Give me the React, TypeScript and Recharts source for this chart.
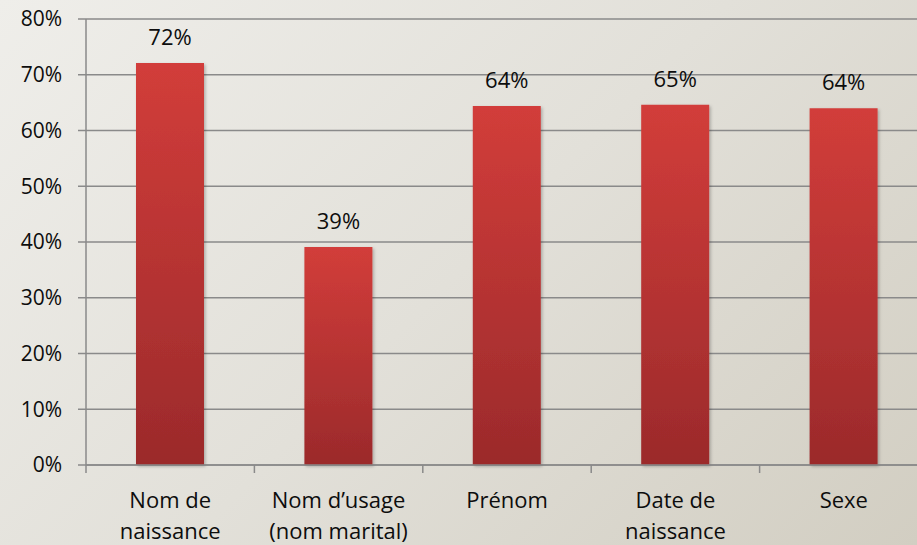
import React from 'react';
import { BarChart, Bar, XAxis, YAxis, CartesianGrid, LabelList } from 'recharts';

const categories = [['Nom de', 'naissance'], ['Nom d\u2019usage', '(nom marital)'], ['Prénom'], ['Date de', 'naissance'], ['Sexe']];
const shares = [72.1, 39.1, 64.4, 64.6, 64.0];
const shareLabels = ['72%', '39%', '64%', '65%', '64%'];
const yTicks = [0, 10, 20, 30, 40, 50, 60, 70, 80];

const data = categories.map((lines, i) => ({
  name: lines.join(' '),
  lines,
  value: shares[i],
  label: shareLabels[i],
}));

const CHART_W = 928;
const CHART_H = 545;
const AXIS_W = 86;
const FONT = '"Open Sans", sans-serif';
const bandWidth = (CHART_W - AXIS_W) / categories.length;

function CategoryTick({ x, y, index }: any) {
  const lines = data[index]?.lines ?? [];
  return (
    <g>
      <line x1={x - bandWidth / 2} x2={x - bandWidth / 2} y1={y - 8} y2={y} stroke="#8a8a8a" strokeWidth={1.5} />
      <text x={x} y={y + 35} textAnchor="middle" fill="#0d0d0d" fontSize={22} fontFamily={FONT}>
        {lines.map((line: string, i: number) => (
          <tspan key={i} x={x} dy={i === 0 ? 0 : 31}>
            {line}
          </tspan>
        ))}
      </text>
    </g>
  );
}

export default function App() {
  return (
    <div
      style={{
        position: 'absolute',
        left: 0,
        top: 0,
        width: 917,
        height: 545,
        overflow: 'hidden',
        background: 'linear-gradient(135deg, #efeeea 0%, #e2e0d9 50%, #d2cec2 100%)',
      }}
    >
      <BarChart width={CHART_W} height={CHART_H} data={data} margin={{ top: 19, right: 0, bottom: 0, left: 0 }}>
        <defs>
          <linearGradient id="barFill" x1="0" y1="0" x2="0" y2="1">
            <stop offset="0%" stopColor="#d23d3a" />
            <stop offset="100%" stopColor="#9b2a2b" />
          </linearGradient>
          <filter id="barShadow" x="-10%" y="-10%" width="130%" height="130%">
            <feDropShadow dx="1.5" dy="1.5" stdDeviation="1.5" floodColor="#000" floodOpacity="0.25" />
          </filter>
        </defs>
        <CartesianGrid vertical={false} stroke="#8a8a8a" strokeWidth={1.5} />
        <XAxis
          dataKey="name"
          height={80}
          interval={0}
          axisLine={{ stroke: '#8a8a8a', strokeWidth: 1.5 }}
          tickLine={false}
          tick={<CategoryTick />}
        />
        <YAxis
          width={AXIS_W}
          domain={[0, 80]}
          ticks={yTicks}
          interval={0}
          tickFormatter={(v: number) => `${v}%`}
          axisLine={{ stroke: '#8a8a8a', strokeWidth: 1.5 }}
          tickLine={{ stroke: '#8a8a8a', strokeWidth: 1.5 }}
          tickSize={8}
          tickMargin={16}
          tick={{ fill: '#0d0d0d', fontSize: 21, fontFamily: FONT }}
        />
        <Bar dataKey="value" fill="url(#barFill)" barSize={68} isAnimationActive={false} filter="url(#barShadow)">
          <LabelList dataKey="label" position="top" offset={18} fill="#0d0d0d" fontSize={22} fontFamily={FONT} />
        </Bar>
      </BarChart>
    </div>
  );
}
